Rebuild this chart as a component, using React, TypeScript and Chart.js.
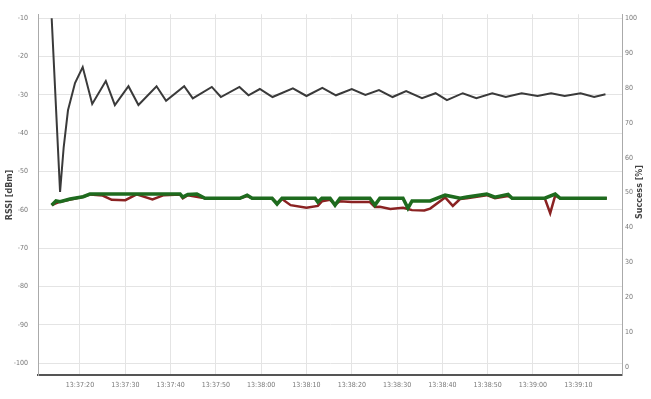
import React, { useEffect, useRef } from "react";
import { Chart, registerables } from "chart.js";

Chart.register(...registerables);

// seconds after 13:37:00
const xTickSeconds = [20, 30, 40, 50, 60, 70, 80, 90, 100, 110, 120, 130];
const xTickLabels = [
  "13:37:20", "13:37:30", "13:37:40", "13:37:50", "13:38:00", "13:38:10",
  "13:38:20", "13:38:30", "13:38:40", "13:38:50", "13:39:00", "13:39:10",
];
const leftTicks = [-10, -20, -30, -40, -50, -60, -70, -80, -90, -100];
const rightTicks = [0, 10, 20, 30, 40, 50, 60, 70, 80, 90, 100];

// Success [%] (black)
const successTimes = [
  13.75, 15.6, 16.4, 17.35, 18.9, 20.6, 22.7, 25.7, 27.7, 30.7, 32.9, 36.9, 39, 43, 44.9,
  49.1, 51.1, 55.2, 57.2, 59.7, 62.5, 67, 70, 73.5, 76.5, 80, 83, 86, 89, 92, 95.5, 98.5,
  101, 104.5, 107.5, 111, 114, 117.5, 121, 124, 127, 130.5, 133.5, 136,
];
const successValues = [
  100, 50.2, 63, 73.6, 81.4, 86, 75.4, 82, 75.1, 80.5, 75.1, 80.5, 76.3, 80.5, 77,
  80.3, 77.4, 80.3, 77.9, 79.7, 77.4, 79.9, 77.7, 80.0, 77.9, 79.7, 78.0, 79.4, 77.4, 79.1, 77.1, 78.5,
  76.5, 78.5, 77.1, 78.5, 77.4, 78.5, 77.7, 78.5, 77.7, 78.5, 77.4, 78.2,
];

// RSSI [dBm] (green)
const greenTimes = [
  13.75, 14.7, 15.6, 17.8, 20.7, 22.2, 42.1, 42.7, 43.8, 45.8, 47.6, 55.3, 56.9, 58, 62.4,
  63.5, 64.6, 71.9, 72.5, 73.4, 75.2, 76.3, 77.4, 84, 85.1, 86.2, 91.3, 92.4, 93.3, 97.3,
  100.6, 103.9, 105.4, 109.8, 111.6, 114.5, 115.4, 122.6, 124.9, 126, 136.3,
];
const greenValues = [
  -58.8, -57.7, -57.9, -57.2, -56.6, -55.9, -55.9, -56.7, -56.0, -55.9, -57.0, -57.0, -56.2, -57.0, -57.0,
  -58.5, -57.0, -57.0, -58.0, -57.0, -57.0, -58.8, -57.0, -57.0, -58.8, -57.0, -57.0, -59.6, -57.7, -57.7,
  -56.2, -57.0, -56.7, -55.9, -56.7, -56.0, -57.0, -57.0, -55.9, -57.0, -57.0,
];

// RSSI [dBm] (red)
const redTimes = [
  13.75, 15.6, 20.7, 22.2, 25.0, 27.0, 30.0, 32.5, 36.0, 38.5, 42.1, 42.7, 43.8, 47.6, 55.3,
  56.9, 58, 62.4, 63.5, 64.6, 66.5, 70, 72.5, 73.4, 75.2, 76.3, 77.4, 80, 84, 85.1, 86.2,
  88.5, 91.3, 92.4, 93.3, 96, 97.3, 100.6, 102.3, 103.9, 105.4, 109.8, 111.6, 114.5, 115.4,
  122.6, 123.8, 124.9, 126, 136.3,
];
const redValues = [
  -58.8, -57.9, -56.6, -56.0, -56.3, -57.4, -57.5, -56.0, -57.3, -56.2, -56.0, -57.0, -56.2, -57.0, -57.0,
  -56.4, -57.0, -57.0, -58.3, -57.2, -58.8, -59.5, -59.0, -57.8, -57.4, -58.6, -57.8, -58.0, -58.0, -59.3, -59.2,
  -59.8, -59.5, -59.8, -60.1, -60.2, -59.7, -56.8, -59.0, -57.2, -57.0, -56.2, -57.0, -56.4, -57.0,
  -57.0, -60.9, -56.3, -57.0, -57.0,
];

const toPoints = (xs: number[], ys: number[]) => xs.map((x, i) => ({ x, y: ys[i] }));

const titlePlugin = {
  id: "sideTitles",
  afterDraw(chart: any) {
    const ctx = chart.ctx;
    ctx.save();
    ctx.fillStyle = "#444";
    ctx.font = "bold 8px 'DejaVu Sans'";
    ctx.textAlign = "center";
    ctx.textBaseline = "middle";
    ctx.translate(10, 195);
    ctx.rotate(-Math.PI / 2);
    ctx.fillText("RSSI [dBm]", 0, 0);
    ctx.restore();
    ctx.save();
    ctx.fillStyle = "#444";
    ctx.font = "bold 8px 'DejaVu Sans'";
    ctx.textAlign = "center";
    ctx.textBaseline = "middle";
    ctx.translate(640, 192);
    ctx.rotate(-Math.PI / 2);
    ctx.fillText("Success [%]", 0, 0);
    ctx.restore();
  },
};

export default function App() {
  const ref = useRef<HTMLCanvasElement>(null);
  useEffect(() => {
    if (!ref.current) return;
    const tickFont = { size: 7, family: "'DejaVu Sans Condensed', 'DejaVu Sans'" };
    const chart = new Chart(ref.current, {
      type: "line",
      data: {
        datasets: [
          {
            label: "Success",
            data: toPoints(successTimes, successValues),
            yAxisID: "yR",
            borderColor: "#3a3a3a",
            borderWidth: 2,
            pointRadius: 0,
            tension: 0,
          },
          {
            label: "RSSI green",
            data: toPoints(greenTimes, greenValues),
            yAxisID: "yL",
            borderColor: "#1e6b1e",
            borderWidth: 3.5,
            pointRadius: 0,
            tension: 0,
          },
          {
            label: "RSSI red",
            data: toPoints(redTimes, redValues),
            yAxisID: "yL",
            borderColor: "#8a2222",
            borderWidth: 2.5,
            pointRadius: 0,
            tension: 0,
          },
        ],
      },
      options: {
        animation: false,
        responsive: false,
        devicePixelRatio: 1,
        layout: { padding: { top: 14, left: 0, right: 0, bottom: 0 } },
        plugins: { legend: { display: false }, tooltip: { enabled: false } },
        scales: {
          x: {
            type: "linear",
            min: 10.73,
            max: 139.65,
            afterBuildTicks: (s: any) => {
              s.ticks = xTickSeconds.map((v) => ({ value: v }));
            },
            afterFit: (s: any) => {
              s.height = 24;
            },
            ticks: {
              autoSkip: false,
              maxRotation: 0,
              padding: 6,
              color: "#777",
              font: tickFont,
              callback: (_v: any, i: number) => xTickLabels[i],
            },
            grid: { color: "#e4e4e4", drawTicks: false },
            border: { color: "#555", width: 2 },
          },
          yL: {
            type: "linear",
            position: "left",
            min: -103.1,
            max: -9,
            afterBuildTicks: (s: any) => {
              s.ticks = leftTicks.map((v) => ({ value: v }));
            },
            afterFit: (s: any) => {
              s.width = 38;
            },
            ticks: { padding: 10, color: "#777", font: tickFont },
            grid: { color: "#e4e4e4", drawTicks: false },
            border: { color: "#aaa", width: 1 },
          },
          yR: {
            type: "linear",
            position: "right",
            min: -2.29,
            max: 101.15,
            afterBuildTicks: (s: any) => {
              s.ticks = rightTicks.map((v) => ({ value: v }));
            },
            afterFit: (s: any) => {
              s.width = 29;
            },
            ticks: { padding: 3, color: "#777", font: tickFont },
            grid: { display: false, drawTicks: false },
            border: { color: "#aaa", width: 1 },
          },
        },
      },
      plugins: [titlePlugin],
    });
    return () => chart.destroy();
  }, []);
  return (
    <div style={{ position: "fixed", left: 0, top: 0, width: 651, height: 399, background: "#fff" }}>
      <canvas ref={ref} width={651} height={399} style={{ width: 651, height: 399 }} />
    </div>
  );
}
